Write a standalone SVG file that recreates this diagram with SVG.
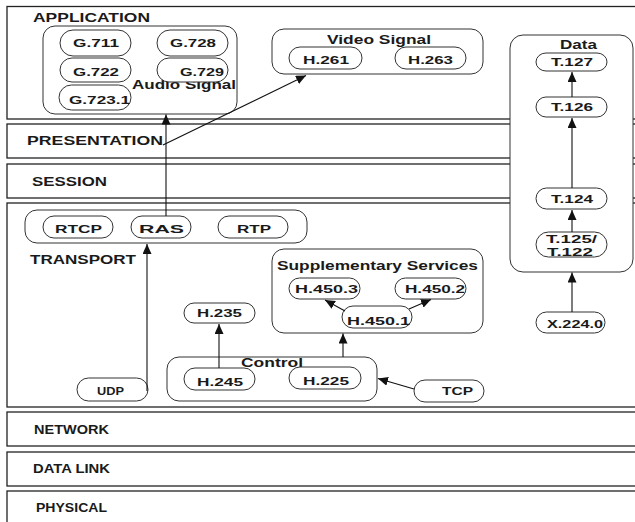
<svg xmlns="http://www.w3.org/2000/svg" width="635" height="522" viewBox="0 0 635 522">
  <defs>
    <marker id="ah" markerUnits="userSpaceOnUse" markerWidth="11" markerHeight="9" refX="10" refY="4.5" orient="auto">
      <path d="M0,0 L10,4.5 L0,9 Z" fill="#111"/>
    </marker>
    <style>
      .layer { fill: #fff; stroke: #222; stroke-width: 1.3; }
      .grp { fill: #fff; stroke: #333; stroke-width: 1; }
      .pill { fill: #fff; stroke: #333; stroke-width: 1; }
      text { font-family: "Liberation Sans", Arial, sans-serif; font-weight: bold; fill: #1a1a1a; }
      .lbl { font-size: 12px; }
      .nt { font-size: 11px; }
      .edge { fill: none; stroke: #111; stroke-width: 1.1; marker-end: url(#ah); }
    </style>
  </defs>

  <rect width="635" height="522" fill="#fff"/>

  <!-- OSI layers -->
  <g id="layers">
    <g id="layer-application">
      <rect class="layer" x="7" y="6.5" width="640" height="112.5"/>
      <text class="lbl" x="33" y="21.5" textLength="117" lengthAdjust="spacingAndGlyphs">APPLICATION</text>
    </g>
    <g id="layer-presentation">
      <rect class="layer" x="7" y="124" width="640" height="34"/>
      <text class="lbl" x="27" y="145" textLength="136" lengthAdjust="spacingAndGlyphs">PRESENTATION</text>
    </g>
    <g id="layer-session">
      <rect class="layer" x="7" y="164" width="640" height="34"/>
      <text class="lbl" x="32" y="186" textLength="75" lengthAdjust="spacingAndGlyphs">SESSION</text>
    </g>
    <g id="layer-transport">
      <rect class="layer" x="7" y="203" width="640" height="204"/>
      <text class="lbl" x="30" y="264" textLength="106" lengthAdjust="spacingAndGlyphs">TRANSPORT</text>
    </g>
    <g id="layer-network">
      <rect class="layer" x="7" y="412" width="640" height="34"/>
      <text class="lbl" x="34" y="434" textLength="75" lengthAdjust="spacingAndGlyphs">NETWORK</text>
    </g>
    <g id="layer-datalink">
      <rect class="layer" x="7" y="452" width="640" height="34"/>
      <text class="lbl" x="33" y="473" textLength="77" lengthAdjust="spacingAndGlyphs">DATA LINK</text>
    </g>
    <g id="layer-physical">
      <rect class="layer" x="7" y="491" width="640" height="40"/>
      <text class="lbl" x="36" y="512" textLength="71" lengthAdjust="spacingAndGlyphs">PHYSICAL</text>
    </g>
  </g>

  <!-- Audio codecs -->
  <g id="audio-signal">
    <rect class="grp" x="43" y="26" width="194" height="88" rx="12"/>
    <text class="lbl" x="132" y="89" textLength="104" lengthAdjust="spacingAndGlyphs">Audio Signal</text>
  </g>
  <g id="g711">
    <rect class="pill" x="60" y="30" width="71" height="26" rx="13" ry="13"/>
    <text class="nt" x="73" y="46.5" textLength="46" lengthAdjust="spacingAndGlyphs">G.711</text>
  </g>
  <g id="g728">
    <rect class="pill" x="157" y="30" width="71" height="26" rx="13" ry="13"/>
    <text class="nt" x="170" y="46.5" textLength="46" lengthAdjust="spacingAndGlyphs">G.728</text>
  </g>
  <g id="g722">
    <rect class="pill" x="60" y="58" width="71" height="24" rx="12" ry="12"/>
    <text class="nt" x="73" y="76" textLength="46" lengthAdjust="spacingAndGlyphs">G.722</text>
  </g>
  <g id="g729">
    <rect class="pill" x="157" y="58" width="71" height="24" rx="12" ry="12"/>
    <text class="nt" x="180" y="76" textLength="44" lengthAdjust="spacingAndGlyphs">G.729</text>
  </g>
  <g id="g7231">
    <rect class="pill" x="59" y="85" width="72" height="25" rx="12.5" ry="12.5"/>
    <text class="nt" x="69" y="104" textLength="61" lengthAdjust="spacingAndGlyphs">G.723.1</text>
  </g>

  <!-- Video codecs -->
  <g id="video-signal">
    <rect class="grp" x="272" y="29" width="211" height="45" rx="12"/>
    <text class="lbl" x="327" y="44" textLength="104" lengthAdjust="spacingAndGlyphs">Video Signal</text>
  </g>
  <g id="h261">
    <rect class="pill" x="289" y="47" width="73" height="22" rx="11" ry="11"/>
    <text class="nt" x="303" y="64" textLength="46" lengthAdjust="spacingAndGlyphs">H.261</text>
  </g>
  <g id="h263">
    <rect class="pill" x="395" y="47" width="71" height="22" rx="11" ry="11"/>
    <text class="nt" x="408" y="64" textLength="45" lengthAdjust="spacingAndGlyphs">H.263</text>
  </g>

  <!-- Data (T.120 series) -->
  <g id="data">
    <rect class="grp" x="510" y="35" width="123" height="237" rx="13"/>
    <text class="lbl" x="560" y="49" textLength="37" lengthAdjust="spacingAndGlyphs">Data</text>
  </g>
  <g id="t127">
    <rect class="pill" x="536" y="53" width="71" height="18" rx="10" ry="9"/>
    <text class="nt" x="551" y="65.5" textLength="42" lengthAdjust="spacingAndGlyphs">T.127</text>
  </g>
  <g id="t126">
    <rect class="pill" x="536" y="97" width="71" height="20" rx="10" ry="10"/>
    <text class="nt" x="551" y="111" textLength="42" lengthAdjust="spacingAndGlyphs">T.126</text>
  </g>
  <g id="t124">
    <rect class="pill" x="536" y="188" width="71" height="21" rx="10.5" ry="10.5"/>
    <text class="nt" x="551" y="202.5" textLength="42" lengthAdjust="spacingAndGlyphs">T.124</text>
  </g>
  <g id="t125">
    <rect class="pill" x="536" y="232" width="71" height="25" rx="12.5" ry="12.5"/>
    <text class="nt" x="546" y="243" textLength="51" lengthAdjust="spacingAndGlyphs">T.125/</text>
    <text class="nt" x="547" y="256" textLength="46" lengthAdjust="spacingAndGlyphs">T.122</text>
  </g>
  <g id="x2240">
    <rect class="pill" x="536" y="312" width="69" height="21" rx="10.5" ry="10.5"/>
    <text class="nt" x="547" y="327.5" textLength="56" lengthAdjust="spacingAndGlyphs">X.224.0</text>
  </g>

  <!-- Transport protocols -->
  <g id="rtp-group">
    <rect class="grp" x="25" y="210" width="282" height="33" rx="12"/>
  </g>
  <g id="rtcp">
    <rect class="pill" x="43" y="216" width="70" height="22" rx="11" ry="11"/>
    <text class="nt" x="55" y="232.5" textLength="47" lengthAdjust="spacingAndGlyphs">RTCP</text>
  </g>
  <g id="ras">
    <rect class="pill" x="131" y="216" width="60" height="22" rx="11" ry="11"/>
    <text class="nt" x="139" y="232.5" textLength="45" lengthAdjust="spacingAndGlyphs">RAS</text>
  </g>
  <g id="rtp">
    <rect class="pill" x="218" y="216" width="70" height="22" rx="11" ry="11"/>
    <text class="nt" x="237" y="232.5" textLength="34" lengthAdjust="spacingAndGlyphs">RTP</text>
  </g>
  <g id="udp">
    <rect class="pill" x="77" y="378" width="71" height="23" rx="11.5" ry="11.5"/>
    <text class="nt" x="97" y="395" textLength="27" lengthAdjust="spacingAndGlyphs">UDP</text>
  </g>
  <g id="h235">
    <rect class="pill" x="184" y="303" width="71" height="20" rx="10" ry="10"/>
    <text class="nt" x="197" y="317" textLength="45" lengthAdjust="spacingAndGlyphs">H.235</text>
  </g>

  <!-- Supplementary services -->
  <g id="supplementary-services">
    <rect class="grp" x="272" y="249" width="211" height="84" rx="12"/>
    <text class="lbl" x="277" y="270" textLength="201" lengthAdjust="spacingAndGlyphs">Supplementary Services</text>
  </g>
  <g id="h4503">
    <rect class="pill" x="289" y="278" width="71" height="21" rx="10.5" ry="10.5"/>
    <text class="nt" x="295" y="292.5" textLength="63" lengthAdjust="spacingAndGlyphs">H.450.3</text>
  </g>
  <g id="h4502">
    <rect class="pill" x="395" y="278" width="71" height="21" rx="10.5" ry="10.5"/>
    <text class="nt" x="405" y="292.5" textLength="60" lengthAdjust="spacingAndGlyphs">H.450.2</text>
  </g>
  <g id="h4501">
    <rect class="pill" x="342" y="306" width="70" height="22" rx="11" ry="11"/>
    <text class="nt" x="347" y="324.5" textLength="63" lengthAdjust="spacingAndGlyphs">H.450.1</text>
  </g>

  <!-- Call control -->
  <g id="control">
    <rect class="grp" x="167" y="357" width="210" height="44" rx="12"/>
    <text class="lbl" x="241" y="367" textLength="62" lengthAdjust="spacingAndGlyphs">Control</text>
  </g>
  <g id="h245">
    <rect class="pill" x="184" y="368" width="71" height="22" rx="11" ry="11"/>
    <text class="nt" x="197" y="385.5" textLength="46" lengthAdjust="spacingAndGlyphs">H.245</text>
  </g>
  <g id="h225">
    <rect class="pill" x="289" y="367" width="72" height="22" rx="11" ry="11"/>
    <text class="nt" x="303" y="385" textLength="46" lengthAdjust="spacingAndGlyphs">H.225</text>
  </g>
  <g id="tcp">
    <rect class="pill" x="414" y="380" width="70" height="22" rx="11" ry="11"/>
    <text class="nt" x="442" y="395" textLength="31" lengthAdjust="spacingAndGlyphs">TCP</text>
  </g>

  <!-- Connectors -->
  <g id="connectors">
    <path class="edge" d="M166,216 L166,114.5"/>
    <path class="edge" d="M163,145 L306,75.5"/>
    <path class="edge" d="M147,391 L147,244"/>
    <path class="edge" d="M219,368 L219,324"/>
    <path class="edge" d="M343,357 L343,333.5"/>
    <path class="edge" d="M345,311 L325,300"/>
    <path class="edge" d="M409,309 L431,299.5"/>
    <path class="edge" d="M414,389 L378,378.5"/>
    <path class="edge" d="M572,97 L572,72"/>
    <path class="edge" d="M572,188 L572,118"/>
    <path class="edge" d="M572,232 L572,210"/>
    <path class="edge" d="M572,312 L572,272.5"/>
  </g>
</svg>
